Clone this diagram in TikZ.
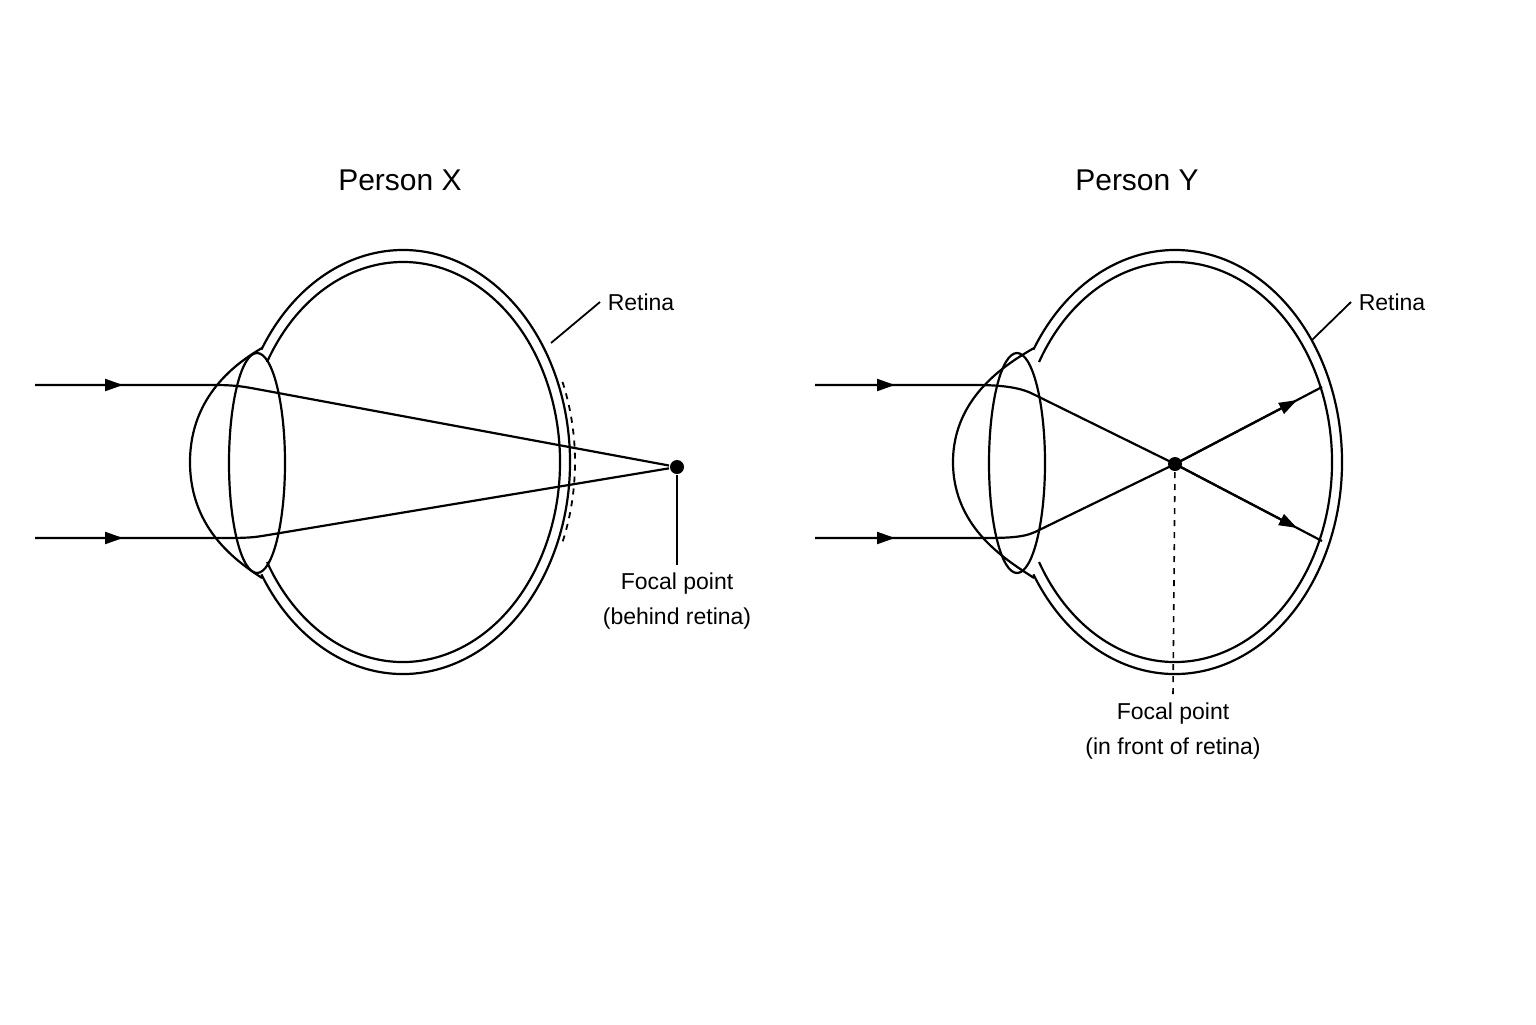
\documentclass[tikz,border=0pt]{standalone}
\usepackage{fontspec}
\setmainfont{Liberation Sans}
\usetikzlibrary{arrows.meta,decorations.markings,calc}
\begin{document}
\begin{tikzpicture}[x=0.5pt,y=-0.5pt,line width=1.1pt,
  arr/.style={postaction={decorate},decoration={markings,mark=at position #1 with {\arrow{Triangle[length=9pt,width=6pt]}}}},
  lbl/.style={font=\fontsize{11.5}{17.5}\selectfont,align=center},
  ttl/.style={font=\fontsize{15}{18}\selectfont}]
\useasboundingbox (0,0) rectangle (1536,1024);
% ---------- Person X ----------
\node[ttl] (tx) at (400,180) {Person X};
\draw ([shift={(403,462)}]-148:167 and 212) arc[start angle=-148,end angle=148,x radius=167,y radius=212];
\draw ([shift={(403,462)}]-150:157 and 200) arc[start angle=-150,end angle=150,x radius=157,y radius=200];
\draw (262,348) .. controls (238,362) and (190,395) .. (190,462) .. controls (190,530) and (238,562) .. (262,578);
\draw (257,463) ellipse[x radius=28,y radius=110];
\draw[dashed,line width=0.9pt] ([shift={(403,462)}]-22:172 and 214) arc[start angle=-22,end angle=22,x radius=172,y radius=214];
\node[circle,fill,inner sep=0pt,minimum size=7pt] (fx) at (677,467) {};
\coordinate (ax1) at (35,385); \coordinate (ax2) at (35,538);
\draw[arr=44pt] (ax1) -- (215,385) .. controls (240,385) and (250,388) .. (262,390) -- (fx);
\draw[arr=44pt] (ax2) -- (215,538) .. controls (240,538) and (250,538) .. (262,536) -- (fx);
\node[lbl,anchor=north] (flx) at (677,565) {Focal point\\(behind retina)};
\draw[line width=0.9pt] (fx) -- (flx.north);
\node[lbl,anchor=west] (rx) at (600,302) {Retina};
\coordinate (rxp) at (551,343);
\draw[line width=0.9pt] (rxp) -- (rx.west);
% ---------- Person Y ----------
\node[ttl] (ty) at (1137,180) {Person Y};
\draw ([shift={(1175,462)}]-148:167 and 212) arc[start angle=-148,end angle=148,x radius=167,y radius=212];
\draw ([shift={(1175,462)}]-150:157 and 200) arc[start angle=-150,end angle=150,x radius=157,y radius=200];
\draw (1034,348) .. controls (1010,362) and (953,395) .. (953,462) .. controls (953,530) and (1010,562) .. (1034,578);
\draw (1017,463) ellipse[x radius=28,y radius=110];
\node[circle,fill,inner sep=0pt,minimum size=7pt] (fy) at (1175,464) {};
\coordinate (ay1) at (815,385); \coordinate (ay2) at (815,538);
\coordinate (ey1) at (1322,387); \coordinate (ey2) at (1322,541);
\draw[arr=40pt] (ay1) -- (975,385) .. controls (1005,385) and (1022,388) .. (1035,395) -- (fy.center) -- (ey2);
\draw[arr=40pt] (ay2) -- (975,538) .. controls (1005,538) and (1022,538) .. (1035,532) -- (fy.center) -- (ey1);
\draw[-{Triangle[length=9pt,width=6pt]}] (fy.center) -- ($(fy.center)!0.83!(ey1)$);
\draw[-{Triangle[length=9pt,width=6pt]}] (fy.center) -- ($(fy.center)!0.83!(ey2)$);
\node[lbl,anchor=north] (fly) at (1173,695) {Focal point\\(in front of retina)};
\draw[dashed,line width=0.8pt] (fy) -- (fly.north);
\node[lbl,anchor=west] (ry) at (1351,302) {Retina};
\coordinate (ryp) at (1312,340);
\draw[line width=0.9pt] (ryp) -- (ry.west);
\end{tikzpicture}
\end{document}
